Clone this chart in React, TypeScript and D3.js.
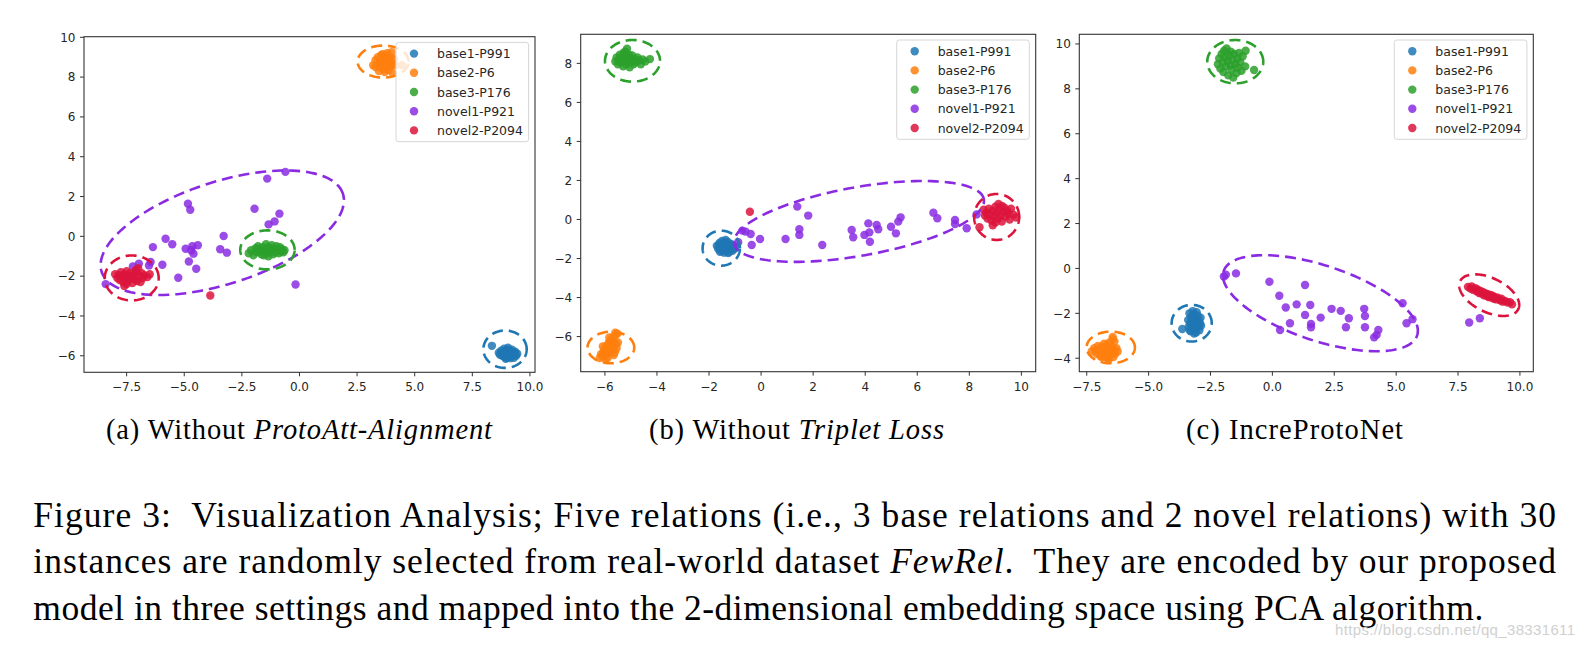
import React from "react";
import * as d3 from "d3";

type Pt = [number, number];

// ---------- series labels / colours ----------
const LABELS = ["base1-P991", "base2-P6", "base3-P176", "novel1-P921", "novel2-P2094"];
const COLORS = ["#1f77b4", "#ff7f0e", "#2ca02c", "#8a2be2", "#dc143c"];

// ---------- panel (a): Without ProtoAtt-Alignment ----------
const A_BASE1: Pt[] = [[8.35,-5.5],[8.65,-5.85],[8.7,-5.95],[8.75,-5.75],[8.8,-6.0],[8.85,-5.8],[8.88,-5.65],[8.9,-6.05],[8.95,-5.9],[9.0,-5.7],[9.0,-6.1],[9.05,-5.85],[9.08,-5.95],[9.1,-5.75],[9.12,-6.05],[9.15,-5.9],[9.18,-5.8],[9.2,-6.0],[9.22,-5.7],[9.25,-5.95],[9.28,-5.85],[9.3,-6.1],[9.33,-5.9],[9.36,-5.8],[9.4,-6.0],[9.45,-5.9],[8.95,-6.15],[9.05,-5.6],[9.15,-6.12],[8.82,-5.92]];
const A_BASE2: Pt[] = [[3.2,8.6],[3.3,8.85],[3.4,9.0],[3.45,8.7],[3.5,8.5],[3.55,9.1],[3.6,8.8],[3.65,8.4],[3.7,8.95],[3.75,8.65],[3.8,9.2],[3.85,8.8],[3.9,8.5],[3.95,9.0],[4.0,8.7],[4.05,8.2],[4.1,8.9],[3.7,8.25],[3.5,8.75],[3.6,9.15],[3.85,8.35],[3.3,8.5],[4.0,9.25],[3.75,9.05],[3.95,8.55],[4.15,8.6],[4.45,8.6],[3.45,8.3],[3.65,8.6],[3.9,8.85]];
const A_BASE3: Pt[] = [[-2.2,-0.85],[-2.1,-0.7],[-2.0,-0.95],[-1.9,-0.6],[-1.85,-0.8],[-1.8,-0.5],[-1.7,-0.75],[-1.65,-0.9],[-1.6,-0.55],[-1.5,-0.7],[-1.45,-0.4],[-1.4,-0.85],[-1.35,-1.0],[-1.3,-0.6],[-1.25,-0.75],[-1.2,-0.45],[-1.15,-0.9],[-1.1,-0.65],[-1.05,-0.8],[-1.0,-0.5],[-0.95,-0.7],[-0.9,-0.85],[-0.85,-0.55],[-0.8,-0.75],[-0.75,-0.65],[-0.7,-0.8],[-1.55,-0.95],[-1.75,-0.65],[-1.35,-0.55],[-0.65,-0.7]];
const A_NOVEL1: Pt[] = [[-1.4,2.9],[-0.61,3.24],[-4.84,1.64],[-4.74,1.34],[-1.95,1.39],[-0.87,1.14],[-1.08,0.75],[-1.34,0.6],[-3.29,0.02],[-5.81,-0.12],[-5.52,-0.4],[-6.36,-0.54],[-4.94,-0.62],[-4.65,-0.5],[-4.41,-0.45],[-4.6,-0.87],[-3.44,-0.65],[-3.15,-0.82],[-4.8,-1.26],[-4.48,-1.63],[-5.95,-1.43],[-6.46,-1.29],[-6.53,-1.46],[-6.97,-1.38],[-7.23,-1.51],[-5.26,-2.08],[-8.41,-2.4],[-0.17,-2.42],[-7.1,-1.8],[-4.7,-0.7]];
const A_NOVEL2: Pt[] = [[-8.0,-1.9],[-7.9,-2.1],[-7.85,-1.95],[-7.8,-2.2],[-7.75,-1.8],[-7.7,-2.0],[-7.65,-2.3],[-7.6,-1.9],[-7.55,-2.1],[-7.5,-1.75],[-7.5,-2.4],[-7.45,-2.0],[-7.4,-2.2],[-7.35,-1.85],[-7.3,-2.05],[-7.25,-2.35],[-7.2,-1.95],[-7.15,-2.15],[-7.1,-1.7],[-7.05,-2.25],[-7.0,-1.6],[-6.95,-2.0],[-6.9,-2.3],[-6.85,-1.85],[-6.8,-2.1],[-6.75,-1.95],[-6.6,-2.05],[-6.5,-1.9],[-7.6,-2.5],[-3.87,-2.97]];

// ---------- panel (b): Without Triplet Loss ----------
const B_BASE1: Pt[] = [[-1.7,-1.35],[-1.65,-1.5],[-1.6,-1.2],[-1.58,-1.65],[-1.55,-1.4],[-1.5,-1.1],[-1.48,-1.55],[-1.45,-1.3],[-1.42,-1.7],[-1.4,-1.45],[-1.38,-1.2],[-1.35,-1.6],[-1.32,-1.35],[-1.3,-1.5],[-1.28,-1.15],[-1.25,-1.4],[-1.22,-1.65],[-1.2,-1.3],[-1.18,-1.5],[-1.15,-1.25],[-1.12,-1.45],[-1.1,-1.6],[-1.05,-1.35],[-1.02,-1.5],[-0.98,-1.4],[-1.52,-1.6],[-1.62,-1.3],[-1.36,-1.05],[-1.26,-1.72],[-1.46,-1.45]];
const B_BASE2: Pt[] = [[-6.2,-7.1],[-6.15,-6.9],[-6.1,-7.0],[-6.05,-6.75],[-6.0,-6.95],[-6.0,-6.6],[-5.95,-6.8],[-5.92,-6.45],[-5.9,-7.1],[-5.88,-6.65],[-5.85,-6.3],[-5.82,-6.85],[-5.8,-6.5],[-5.78,-6.2],[-5.75,-6.7],[-5.72,-6.4],[-5.7,-6.05],[-5.68,-6.55],[-5.65,-6.25],[-5.62,-6.8],[-5.6,-5.95],[-5.58,-6.4],[-5.55,-6.6],[-5.52,-5.85],[-5.5,-6.3],[-6.08,-6.5],[-5.98,-7.15],[-5.83,-6.05],[-5.66,-6.95],[-5.6,-5.8]];
const B_BASE3: Pt[] = [[-5.6,8.1],[-5.55,8.3],[-5.5,7.95],[-5.45,8.2],[-5.42,8.45],[-5.4,8.05],[-5.35,8.3],[-5.3,7.85],[-5.28,8.55],[-5.25,8.15],[-5.2,8.35],[-5.18,7.95],[-5.15,8.75],[-5.12,8.2],[-5.1,8.05],[-5.08,8.45],[-5.05,7.8],[-5.0,8.25],[-4.98,8.1],[-4.95,8.4],[-4.9,7.95],[-4.85,8.2],[-4.8,8.05],[-4.75,8.3],[-4.7,8.15],[-4.62,7.95],[-4.55,8.2],[-4.45,8.1],[-4.27,8.22],[-5.22,8.6]];
const B_NOVEL1: Pt[] = [[1.39,0.66],[1.81,0.2],[-0.72,-0.57],[-0.4,-0.74],[-0.04,-1.0],[-0.36,-1.31],[-0.88,-1.17],[0.94,-1.0],[1.47,-0.5],[1.47,-0.79],[2.35,-1.31],[3.48,-0.54],[3.54,-0.91],[3.97,-0.79],[4.12,-0.2],[4.16,-0.66],[4.18,-1.14],[4.44,-0.28],[4.5,-0.5],[4.99,-0.37],[5.18,-0.71],[5.27,-0.11],[5.36,0.11],[6.62,0.35],[6.77,0.06],[7.45,-0.03],[7.45,-0.23],[7.9,-0.45],[8.28,0.26],[-0.6,-0.62]];
const B_NOVEL2: Pt[] = [[8.55,0.5],[8.6,0.2],[8.65,0.35],[8.7,0.05],[8.75,0.55],[8.8,0.25],[8.85,-0.05],[8.9,0.45],[8.95,0.15],[9.0,0.65],[9.0,-0.15],[9.05,0.35],[9.1,0.05],[9.12,0.8],[9.15,0.5],[9.2,0.2],[9.25,-0.1],[9.3,0.4],[9.35,0.6],[9.4,0.15],[9.45,0.45],[9.5,0.3],[9.55,0.0],[9.6,0.55],[9.7,0.25],[9.8,0.1],[8.9,-0.3],[9.25,0.7],[8.39,-0.4],[-0.43,0.4]];

// ---------- panel (c): IncreProtoNet ----------
const C_BASE1: Pt[] = [[-3.64,-2.7],[-3.4,-2.3],[-3.38,-2.6],[-3.35,-2.0],[-3.32,-2.45],[-3.3,-2.8],[-3.28,-2.15],[-3.25,-2.55],[-3.22,-1.9],[-3.2,-2.35],[-3.18,-2.7],[-3.15,-2.05],[-3.12,-2.5],[-3.1,-2.25],[-3.08,-2.85],[-3.05,-2.4],[-3.02,-2.1],[-3.0,-2.6],[-2.98,-2.3],[-2.95,-2.75],[-2.92,-2.45],[-2.9,-2.2],[-2.88,-2.55],[-3.26,-2.25],[-3.16,-2.9],[-3.06,-1.95],[-3.34,-2.75],[-2.96,-2.5],[-3.2,-2.15],[-3.12,-2.65]];
const C_BASE2: Pt[] = [[-7.3,-3.7],[-7.2,-3.55],[-7.1,-3.8],[-7.05,-3.45],[-7.0,-3.65],[-6.95,-3.9],[-6.9,-3.5],[-6.85,-3.75],[-6.8,-3.35],[-6.78,-3.95],[-6.75,-3.6],[-6.7,-3.8],[-6.68,-3.4],[-6.65,-4.0],[-6.6,-3.65],[-6.58,-3.3],[-6.55,-3.85],[-6.5,-3.5],[-6.48,-3.7],[-6.45,-3.15],[-6.42,-3.95],[-6.4,-3.6],[-6.38,-3.25],[-6.35,-3.8],[-6.3,-3.55],[-6.25,-3.7],[-6.6,-4.05],[-6.9,-3.95],[-6.45,-3.05],[-7.15,-3.65]];
const C_BASE3: Pt[] = [[-2.2,9.1],[-2.15,9.35],[-2.1,8.9],[-2.05,9.55],[-2.0,9.2],[-1.98,8.75],[-1.95,9.7],[-1.9,9.4],[-1.88,9.0],[-1.85,9.8],[-1.8,9.25],[-1.78,8.6],[-1.75,9.5],[-1.7,9.05],[-1.68,9.65],[-1.65,8.85],[-1.6,9.3],[-1.58,8.5],[-1.55,9.55],[-1.5,9.1],[-1.45,8.7],[-1.42,9.35],[-1.4,8.95],[-1.35,9.6],[-1.3,9.2],[-1.25,8.8],[-1.2,9.45],[-1.1,9.0],[-1.08,9.7],[-0.74,8.84]];
const C_NOVEL1: Pt[] = [[-1.96,-0.36],[-1.88,-0.28],[-1.47,-0.22],[-0.12,-0.59],[1.32,-0.74],[0.28,-1.22],[0.98,-1.6],[0.54,-1.74],[1.53,-1.63],[1.32,-2.07],[1.95,-2.19],[2.39,-1.8],[2.76,-1.89],[3.09,-2.22],[3.71,-1.8],[3.74,-2.12],[5.26,-1.55],[5.66,-2.26],[5.42,-2.44],[0.71,-2.44],[1.56,-2.47],[1.56,-2.62],[0.31,-2.74],[2.97,-2.62],[3.74,-2.62],[4.28,-2.74],[4.21,-2.96],[4.11,-3.07],[7.95,-2.41],[8.38,-2.22]];
const C_NOVEL2: Pt[] = [[7.9,-0.82],[8.0,-0.9],[8.05,-0.8],[8.1,-0.95],[8.2,-0.88],[8.25,-1.02],[8.3,-0.95],[8.35,-1.1],[8.4,-1.0],[8.45,-1.12],[8.5,-1.05],[8.55,-1.2],[8.6,-1.1],[8.65,-1.22],[8.7,-1.15],[8.75,-1.28],[8.8,-1.18],[8.85,-1.3],[8.9,-1.22],[8.95,-1.35],[9.0,-1.28],[9.05,-1.38],[9.1,-1.3],[9.2,-1.42],[9.25,-1.35],[9.3,-1.48],[9.4,-1.45],[9.5,-1.52],[9.6,-1.5],[9.68,-1.6]];

// ---------- dashed cluster ellipses (data units: centre + conjugate semi-axes u, v) ----------
// [seriesIndex, cx, cy, ux, uy, vx, vy]
type Ell = [number, number, number, number, number, number, number];
const A_ELLIPSES: Ell[] = [
  [3, -3.35, 0.18, 5.235, 1.959, -0.68, 2.439],
  [1, 3.63, 8.78, 1.106, 0, 0, 0.804],
  [2, -1.39, -0.68, 1.18, 0, 0, 0.98],
  [4, -7.28, -2.09, 1.17, 0, 0, 1.13],
  [0, 8.92, -5.67, 0.94, 0, 0, 0.94],
];
const B_ELLIPSES: Ell[] = [
  [3, 3.76, -0.1, 4.798, 1.139, -0.231, 1.73],
  [2, -4.94, 8.13, 1.057, 0, 0, 1.067],
  [1, -5.77, -6.56, 0.897, 0, 0, 0.81],
  [0, -1.53, -1.47, 0.717, 0, 0, 0.897],
  [4, 9.05, 0.13, 0.865, 0, 0, 1.178],
];
const C_ELLIPSES: Ell[] = [
  [3, 1.94, -1.55, 3.907, -1.433, 0.479, 1.589],
  [4, 8.76, -1.19, 1.174, -0.626, 0.3, 0.684],
  [2, -1.5, 9.21, 1.131, 0, 0, 0.965],
  [0, -3.26, -2.44, 0.81, 0, 0, 0.817],
  [1, -6.53, -3.52, 0.976, 0, 0, 0.705],
];

// ---------- ticks ----------
const A_XTICKS = [-7.5, -5, -2.5, 0, 2.5, 5, 7.5, 10];
const A_YTICKS = [-6, -4, -2, 0, 2, 4, 6, 8, 10];
const B_XTICKS = [-6, -4, -2, 0, 2, 4, 6, 8, 10];
const B_YTICKS = [-6, -4, -2, 0, 2, 4, 6, 8];
const C_XTICKS = [-7.5, -5, -2.5, 0, 2.5, 5, 7.5, 10];
const C_YTICKS = [-4, -2, 0, 2, 4, 6, 8, 10];

// ---------- captions ----------
const SUBCAPTIONS = [
  { label: "(a)", plain: "Without ", italic: "ProtoAtt-Alignment" },
  { label: "(b)", plain: "Without ", italic: "Triplet Loss" },
  { label: "(c)", plain: "IncreProtoNet", italic: "" },
];
const CAPTION_LINE1 = "Figure 3:  Visualization Analysis; Five relations (i.e., 3 base relations and 2 novel relations) with 30";
const CAPTION_LINE2A = "instances are randomly selected from real-world dataset ";
const CAPTION_LINE2B = "FewRel";
const CAPTION_LINE2C = ".  They are encoded by our proposed";
const CAPTION_LINE3 = "model in three settings and mapped into the 2-dimensional embedding space using PCA algorithm.";
const WATERMARK = "https://blog.csdn.net/qq_38331611";

// ---------- layout ----------
const PANELS = [
  { left: 84, right: 535, top: 36.7, bottom: 372.3, xDomain: [-9.35, 10.22], yDomain: [-6.83, 10.03], xTicks: A_XTICKS, yTicks: A_YTICKS, xFmt: ".1f", yFmt: "d", series: [A_BASE1, A_BASE2, A_BASE3, A_NOVEL1, A_NOVEL2], ellipses: A_ELLIPSES, capX: 106, capW: 386 },
  { left: 580.7, right: 1035.7, top: 34.3, bottom: 371.7, xDomain: [-6.93, 10.55], yDomain: [-7.8, 9.49], xTicks: B_XTICKS, yTicks: B_YTICKS, xFmt: "d", yFmt: "d", series: [B_BASE1, B_BASE2, B_BASE3, B_NOVEL1, B_NOVEL2], ellipses: B_ELLIPSES, capX: 649, capW: 295 },
  { left: 1079.3, right: 1533.3, top: 34.3, bottom: 371.7, xDomain: [-7.8, 10.54], yDomain: [-4.6, 10.43], xTicks: C_XTICKS, yTicks: C_YTICKS, xFmt: ".1f", yFmt: "d", series: [C_BASE1, C_BASE2, C_BASE3, C_NOVEL1, C_NOVEL2], ellipses: C_ELLIPSES, capX: 1186, capW: 217 },
];

const TICK_FONT = "DejaVu Sans, sans-serif";
const SERIF = "Liberation Serif, Tinos, Times New Roman, Times, serif";

function Panel({ p }: { p: any }) {
  const xs = d3.scaleLinear().domain(p.xDomain).range([p.left, p.right]);
  const ys = d3.scaleLinear().domain(p.yDomain).range([p.bottom, p.top]);
  const fx = d3.format(p.xFmt);
  const fy = d3.format(p.yFmt);
  const ts = d3.range(0, 2 * Math.PI, (2 * Math.PI) / 160);
  const ellPath = (e: Ell) =>
    d3
      .line<number>()
      .x((t) => xs(e[1] + e[3] * Math.cos(t) + e[5] * Math.sin(t)))
      .y((t) => ys(e[2] + e[4] * Math.cos(t) + e[6] * Math.sin(t)))
      .curve(d3.curveLinearClosed)(ts) as string;

  const legW = 132.6;
  const legH = 99.3;
  const legX = p.right - 6.4 - legW;
  const legY = p.top + 5.7;

  return (
    <g>
      {p.series.map((pts: Pt[], si: number) => (
        <g key={si} fill={COLORS[si]} fillOpacity={0.85}>
          {pts.map((d, i) => (
            <circle key={i} cx={xs(d[0])} cy={ys(d[1])} r={4.2} />
          ))}
        </g>
      ))}
      {p.ellipses.map((e: Ell, i: number) => (
        <path key={i} d={ellPath(e)} fill="none" stroke={COLORS[e[0]]} strokeWidth={2.6} strokeDasharray="11 6" />
      ))}
      <rect x={p.left} y={p.top} width={p.right - p.left} height={p.bottom - p.top} fill="none" stroke="#333" strokeWidth={1.1} />
      {p.xTicks.map((t: number) => (
        <g key={"x" + t}>
          <line x1={xs(t)} x2={xs(t)} y1={p.bottom} y2={p.bottom + 4} stroke="#333" strokeWidth={1} />
          <text x={xs(t)} y={p.bottom + 19} textAnchor="middle" style={{ fontFamily: TICK_FONT }} fontSize={12} fill="#262626">
            {fx(t)}
          </text>
        </g>
      ))}
      {p.yTicks.map((t: number) => (
        <g key={"y" + t}>
          <line x1={p.left - 4} x2={p.left} y1={ys(t)} y2={ys(t)} stroke="#333" strokeWidth={1} />
          <text x={p.left - 8.5} y={ys(t)} dy="0.36em" textAnchor="end" style={{ fontFamily: TICK_FONT }} fontSize={12} fill="#262626">
            {fy(t)}
          </text>
        </g>
      ))}
      <rect x={legX} y={legY} width={legW} height={legH} rx={2.5} fill="#fff" fillOpacity={0.8} stroke="#d6d6d6" strokeWidth={1} />
      {LABELS.map((l, i) => (
        <g key={l}>
          <circle cx={legX + 18} cy={legY + 11.2 + i * 19.2} r={4.2} fill={COLORS[i]} fillOpacity={0.85} />
          <text x={legX + 41} y={legY + 11.2 + i * 19.2} dy="0.36em" style={{ fontFamily: TICK_FONT }} fontSize={12.5} fill="#262626">
            {l}
          </text>
        </g>
      ))}
    </g>
  );
}

export default function App() {
  const serif = { fontFamily: SERIF };
  return (
    <svg width={1585} height={648} style={{ position: "absolute", left: 0, top: 0, display: "block" }}>
      <rect x={0} y={0} width={1585} height={648} fill="#fff" />
      {PANELS.map((p, i) => (
        <Panel key={i} p={p} />
      ))}
      {PANELS.map((p, i) => {
        const c = SUBCAPTIONS[i];
        return (
          <text key={"cap" + i} x={p.capX} y={439} style={serif} fontSize={28.5} fill="#000" textLength={p.capW} lengthAdjust="spacing">
            <tspan>{c.label + " "}</tspan>
            <tspan>{c.plain}</tspan>
            {c.italic ? <tspan fontStyle="italic">{c.italic}</tspan> : null}
          </text>
        );
      })}
      <text x={33.3} y={526.7} style={serif} fontSize={35.5} fill="#000" textLength={1522.7} lengthAdjust="spacing" xmlSpace="preserve">
        {CAPTION_LINE1}
      </text>
      <text x={33.3} y={573.3} style={serif} fontSize={35.5} fill="#000" textLength={1522.7} lengthAdjust="spacing" xmlSpace="preserve">
        <tspan>{CAPTION_LINE2A}</tspan>
        <tspan fontStyle="italic">{CAPTION_LINE2B}</tspan>
        <tspan>{CAPTION_LINE2C}</tspan>
      </text>
      <text x={33.3} y={620} style={serif} fontSize={35.5} fill="#000" textLength={1450} lengthAdjust="spacing">
        {CAPTION_LINE3}
      </text>
      <text x={1335} y={635} style={{ fontFamily: "Liberation Sans, Arial, sans-serif" }} fontSize={15} fill="#d0d0d0" textLength={240} lengthAdjust="spacing">
        {WATERMARK}
      </text>
    </svg>
  );
}
